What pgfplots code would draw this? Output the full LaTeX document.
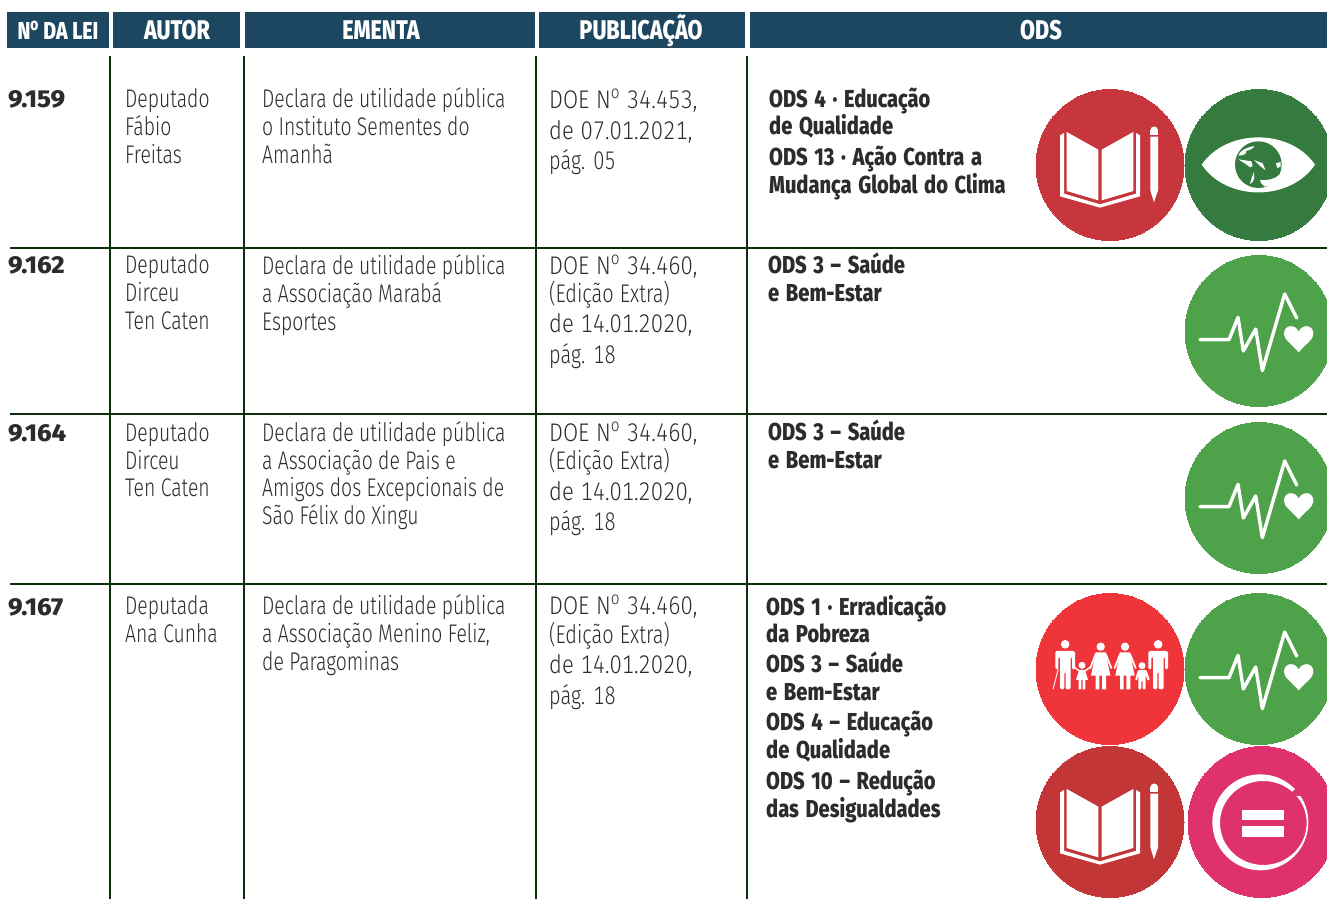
\documentclass[border=0pt]{standalone}
\usepackage{fontspec}
\usepackage{pgfplots}
\pgfplotsset{compat=1.18}
\setmainfont{Fira Sans}
\newfontfamily\bodyf{Fira Sans Light}[FakeStretch=.76,Numbers={Lining,Monospaced}]
\newfontfamily\pubf{Fira Sans Light}[FakeStretch=.78,Numbers={Lining,Monospaced},WordSpace=1.15]
\newfontfamily\pubn{Fira Sans Light}[FakeStretch=.86,Numbers={Lining,Monospaced},WordSpace=1.1]
\newfontfamily\boldf{Fira Sans ExtraBold}[FakeStretch=.82,WordSpace=1.45]
\newfontfamily\headf{Fira Sans ExtraBold}[FakeStretch=.80]
\newfontfamily\numf{Fira Sans ExtraBold}[FakeStretch=1.04]
\definecolor{hd}{HTML}{1D4760}
\definecolor{ln}{HTML}{0B2E0B}
\definecolor{tx}{HTML}{2C2C2C}
\definecolor{bk}{HTML}{C6363C}
\definecolor{bkb}{HTML}{C33637}
\definecolor{ey}{HTML}{357A3E}
\definecolor{he}{HTML}{4EA34A}
\definecolor{po}{HTML}{EF3539}
\definecolor{pk}{HTML}{DF316E}
\newcommand{\T}[3]{\node[anchor=base west,inner sep=0pt,text=tx] at (axis cs:#1,#2) {\fontsize{25.5}{28}\bodyf #3};}
\newcommand{\PP}[3]{\node[anchor=base west,inner sep=0pt,text=tx] at (axis cs:#1,#2) {\fontsize{25.5}{28}\pubf #3};}
\newcommand{\PN}[3]{\node[anchor=base west,inner sep=0pt,text=tx] at (axis cs:#1,#2) {\fontsize{25.5}{28}\pubn #3};}
\newcommand{\B}[3]{\node[anchor=base west,inner sep=0pt,text=tx] at (axis cs:#1,#2) {\fontsize{24.5}{28}\boldf #3};}
\newcommand{\N}[3]{\node[anchor=base west,inner sep=0pt,text=tx] at (axis cs:#1,#2) {\fontsize{24.5}{28}\numf #3};}
\newcommand{\HH}[2]{\node[anchor=base,inner sep=0pt,text=white] at (axis cs:#1,39.5) {\fontsize{27}{30}\headf #2};}
\newcommand{\no}{N\textsuperscript{o}}
% icons, in the coordinates of a 3x crop; #1,#2 = centre of the circle
\newcommand{\bookicon}[2]{\begin{scope}[shift={(#1,#2)},scale=1/3,shift={(-240,-254)}]
\fill[white] (90,165)--(102,158)--(102,340)--(210,372)--(318,340)--(318,158)--(330,165)--(330,348)--(210,382)--(90,348)--cycle;
\fill[white] (110,155)--(205,208)--(205,360)--(110,332)--cycle;
\fill[white] (215,208)--(310,155)--(310,332)--(215,360)--cycle;
\fill[white] (372.5,150) circle[radius=11.5];
\fill[white] (361,150) rectangle (384,163);
\fill[white] (361,169)--(384,169)--(384,330)--(372,366)--(361,330)--cycle;
\end{scope}}
\newcommand{\healthicon}[2]{\begin{scope}[shift={(#1,#2)},scale=1/3,shift={(-685,-236)}]
\draw[white,line width=3.4pt,line cap=round,line join=round] (508,262)--(595,262)--(622,195)--(638,296)--(675,230)--(695,355)--(762,125)--(798,197);
\fill[white] (804,300) .. controls (780,272) and (760,262) .. (760,245) .. controls (760,215) and (795,215) .. (804,238) .. controls (813,215) and (848,215) .. (848,245) .. controls (848,262) and (828,272) .. (804,300) -- cycle;
\end{scope}}
\newcommand{\adult}{%
\fill[white,rounded corners=2pt] (76,238)--(76,183)--(135,183)--(135,238)--(126,238)--(126,200)--(122,200)--(122,298)--(107,298)--(107,245)--(103,245)--(103,298)--(90,298)--(90,200)--(85,200)--(85,238)--cycle;
\fill[white] (105.5,163) circle[radius=13];}
\newcommand{\woman}{%
\fill[white] (197,187)--(227,187)--(241,257)--(228,257)--(228,298)--(216,298)--(216,257)--(208,257)--(208,298)--(197,298)--(197,257)--(183,257)--cycle;
\draw[white,line width=1.7pt,line cap=round] (197,192)--(181,234) (227,192)--(244,234);
\fill[white] (212,170) circle[radius=12.5];}
\pgfplotsset{disc/.style={only marks,mark=*,mark size=75.5pt,color=#1,mark options={xscale=.98,draw=#1,fill=#1,line width=0pt}}}
\begin{document}
\begin{tikzpicture}
\useasboundingbox (0pt,0pt) rectangle (1327pt,899pt);
\begin{axis}[scale only axis,width=1327pt,height=899pt,xmin=0,xmax=1327,ymin=0,ymax=899,y dir=reverse,hide axis,clip mode=global]
% header bars
\addplot[fill=hd,draw=none] coordinates {(7,12)(109,12)(109,48)(7,48)} --cycle;
\addplot[fill=hd,draw=none] coordinates {(113,12)(240,12)(240,48)(113,48)} --cycle;
\addplot[fill=hd,draw=none] coordinates {(245,12)(535,12)(535,48)(245,48)} --cycle;
\addplot[fill=hd,draw=none] coordinates {(539,12)(745,12)(745,48)(539,48)} --cycle;
\addplot[fill=hd,draw=none] coordinates {(750,12)(1327,12)(1327,48)(750,48)} --cycle;
% rules
\addplot[ln,line width=2pt] coordinates {(110,56)(110,899)};
\addplot[ln,line width=2pt] coordinates {(244,56)(244,899)};
\addplot[ln,line width=2pt] coordinates {(536,56)(536,899)};
\addplot[ln,line width=2pt] coordinates {(747,56)(747,899)};
\addplot[ln,line width=2pt] coordinates {(10,248)(1327,248)};
\addplot[ln,line width=2pt] coordinates {(10,414)(1327,414)};
\addplot[ln,line width=2pt] coordinates {(10,584)(1327,584)};
% circles
\addplot[disc=bk] coordinates {(1110,165)};
\addplot[disc=ey] coordinates {(1259,165)};
\addplot[disc=he] coordinates {(1259,331)(1259,498)(1259,669)};
\addplot[disc=po] coordinates {(1110,669)};
\addplot[disc=bkb] coordinates {(1110,822)};
\addplot[disc=pk] coordinates {(1262,822)};
% header text
\HH{58}{\fontsize{24.5}{28}\selectfont \no{} DA LEI}
\HH{177}{AUTOR}
\HH{381}{EMENTA}
\HH{641}{PUBLICAÇÃO}
\HH{1041}{ODS}
% row 1
\N{8}{107}{9.159}
\T{125}{107}{Deputado}\T{125}{135}{Fábio}\T{125}{163}{Freitas}
\T{262}{107}{Declara de utilidade pública}\T{262}{135}{o Instituto Sementes do}\T{262}{163}{Amanhã}
\PN{549}{108}{DOE \no{} 34.453,}\PN{549}{139}{de 07.01.2021,}\PP{549}{169}{pág. 05}
\B{769}{107}{ODS 4 · Educação}\B{769}{134}{de Qualidade}\B{769}{165}{ODS 13 · Ação Contra a}\B{769}{193}{Mudança Global do Clima}
% row 2
\N{8}{273}{9.162}
\T{125}{273}{Deputado}\T{125}{301}{Dirceu}\T{125}{329}{Ten Caten}
\T{262}{274}{Declara de utilidade pública}\T{262}{302}{a Associação Marabá}\T{262}{330}{Esportes}
\PN{549}{274}{DOE \no{} 34.460,}\PP{549}{302}{(Edição Extra)}\PN{549}{332}{de 14.01.2020,}\PP{549}{363}{pág. 18}
\B{768}{273}{ODS 3 – Saúde}\B{768}{301}{e Bem-Estar}
% row 3
\N{8}{441}{9.164}
\T{125}{441}{Deputado}\T{125}{469}{Dirceu}\T{125}{496}{Ten Caten}
\T{262}{441}{Declara de utilidade pública}\T{262}{469}{a Associação de Pais e}\T{262}{496}{Amigos dos Excepcionais de}\T{262}{524}{São Félix do Xingu}
\PN{549}{441}{DOE \no{} 34.460,}\PP{549}{469}{(Edição Extra)}\PN{549}{500}{de 14.01.2020,}\PP{549}{530}{pág. 18}
\B{768}{440}{ODS 3 – Saúde}\B{768}{468}{e Bem-Estar}
% row 4
\N{8}{615}{9.167}
\T{125}{614}{Deputada}\T{125}{642}{Ana Cunha}
\T{262}{614}{Declara de utilidade pública}\T{262}{642}{a Associação Menino Feliz,}\T{262}{670}{de Paragominas}
\PN{549}{614}{DOE \no{} 34.460,}\PP{549}{643}{(Edição Extra)}\PN{549}{673}{de 14.01.2020,}\PP{549}{704}{pág. 18}
\B{766}{615}{ODS 1 · Erradicação}\B{766}{642}{da Pobreza}\B{766}{672}{ODS 3 – Saúde}\B{766}{700}{e Bem-Estar}
\B{766}{730}{ODS 4 – Educação}\B{766}{758}{de Qualidade}\B{766}{789}{ODS 10 – Redução}\B{766}{817}{das Desigualdades}
\end{axis}
% pictograms drawn over the circles
\begin{scope}[shift={(0pt,899pt)},x=1pt,y=-1pt]
\bookicon{1110}{165}
\bookicon{1110}{822}
\healthicon{1259}{331}
\healthicon{1259}{498}
\healthicon{1259}{669}
% eye
\begin{scope}[shift={(1030,80)},scale=1/3]
\fill[white] (515,254) .. controls (590,145) and (780,145) .. (855,254) .. controls (780,365) and (590,365) .. (515,254) -- cycle;
\fill[ey] (685,254) circle[radius=70];
\fill[white] (625,226) .. controls (630,212) and (650,202) .. (672,198) .. controls (672,206) and (660,210) .. (648,213) .. controls (652,220) and (640,228) .. (625,226) -- cycle;
\fill[white] (625,238)--(664,244)--(668,258)--(660,262)--(650,254)--cycle;
\fill[white] (672,296)--(668,306)--(660,312)--(664,296)--(672,276)--cycle;
\fill[white] (690,300) .. controls (710,302) and (735,298) .. (748,284) .. controls (750,300) and (735,314) .. (705,320) .. controls (695,312) and (690,308) .. (690,300) -- cycle;
\fill[white] (672,240)--(690,258)--(706,270)--(698,250)--cycle;
\fill[white] (738,250)--(752,246)--(752,260)--(742,264)--cycle;
\end{scope}
% family
\begin{scope}[shift={(1030,590)},scale=1/3]
\adult
\begin{scope}[xshift=279]\adult\end{scope}
\draw[white,line width=0.9pt] (69,298)--(85,236);
\woman
\begin{scope}[xshift=73]\woman\end{scope}
\fill[white] (156,226) circle[radius=10.5];
\fill[white] (147,240)--(165,240)--(174,270)--(166,270)--(166,298)--(158,298)--(158,270)--(154,270)--(154,298)--(146,298)--(146,270)--(138,270)--cycle;
\draw[white,line width=1.4pt,line cap=round] (148,243)--(133,232) (165,243)--(180,232);
\fill[white] (336,227) circle[radius=10.5];
\fill[white,rounded corners=1pt] (315,270)--(324,240)--(349,240)--(360,270)--(353,272)--(347,254)--(347,298)--(338,298)--(338,272)--(334,272)--(334,298)--(325,298)--(325,254)--(321,272)--cycle;
\end{scope}
% equality
\begin{scope}[shift={(1030,745)},scale=1/3]
\fill[white,even odd rule] (691,232) circle[radius=144] (700,234) ellipse[x radius=130,y radius=126];
\fill[pk] (778,147)--(802,128)--(850,128)--(850,153)--(805,153)--cycle;
\fill[white] (636,194) rectangle (762,226);
\fill[white] (636,244) rectangle (762,277);
\end{scope}
\end{scope}
\end{tikzpicture}
\end{document}
